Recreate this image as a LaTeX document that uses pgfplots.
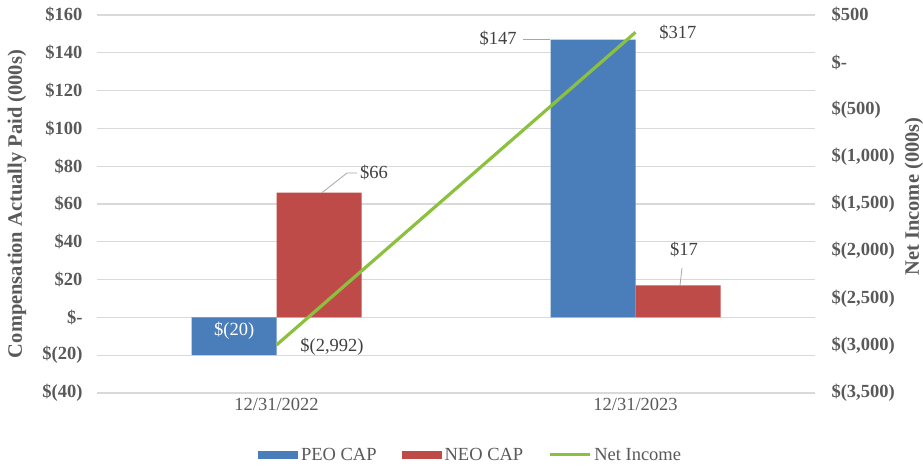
\documentclass[border=0pt]{standalone}
\usepackage{pgfplots}
\pgfplotsset{compat=1.18}
\usepackage{fontspec}
\setmainfont{Liberation Serif}
\definecolor{peo}{RGB}{74,126,187}
\definecolor{neo}{RGB}{190,75,72}
\definecolor{ni}{RGB}{140,193,64}
\definecolor{txt}{RGB}{89,89,89}
\definecolor{lbl}{RGB}{64,64,64}
\definecolor{gridc}{RGB}{217,217,217}
\newcommand{\fs}{\fontsize{18.5}{21}\selectfont}
\newcommand{\ft}{\fontsize{20.5}{23}\selectfont\bfseries}
\begin{document}
\begin{tikzpicture}
\pgfplotsset{
  base/.style={width=718pt,height=378pt,scale only axis,xmin=-0.5,xmax=1.5,
    axis line style={draw=none}, major tick length=0pt,
    tick label style={font=\fs},
  }
}
\begin{axis}[base,
  ymin=-40,ymax=160,
  ytick={-40,-20,...,160},
  yticklabels={\$(40),\$(20),\$-,\$20,\$40,\$60,\$80,\$100,\$120,\$140,\$160},
  yticklabel style={font=\fs\bfseries, text=txt, xshift=-11pt},
  ymajorgrids, grid style={gridc, line width=1.2pt},
  xtick={0,1}, xticklabels={12/31/2022,12/31/2023},
  xticklabel style={text=txt, yshift=-2pt},
  ybar=0pt, bar width=85pt,
  legend style={at={(axis description cs:0.521,-0.164)}, anchor=center, draw=none, fill=none,
    legend columns=3, font=\fs, text=txt,
    /tikz/every even column/.append style={column sep=22pt},
    nodes={inner xsep=3pt}},
  clip=false,
]
\addplot[fill=peo, draw=none, legend image code/.code={\fill[peo] (0pt,-4pt) rectangle (40pt,4pt);}]
  coordinates {(0,-20) (1,147)};
\addlegendentry{PEO CAP}
\addplot[fill=neo, draw=none, legend image code/.code={\fill[neo] (0pt,-4pt) rectangle (40pt,4pt);}]
  coordinates {(0,66) (1,17)};
\addlegendentry{NEO CAP}
\addlegendimage{legend image code/.code={\draw[ni, line width=3pt] (0pt,0pt) -- (40pt,0pt);}}
\addlegendentry{Net Income}
% data labels
\node[font=\fs, text=white] at (axis cs:-0.118,-7) {\$(20)};
\draw[gray!70, line width=0.8pt] (axis cs:0.1267,66) -- (axis cs:0.1964,76.4) -- (axis cs:0.2242,76.4);
\node[font=\fs, text=lbl] at (axis cs:0.2716,76.9) {\$66};
\node[font=\fs, text=lbl] at (axis cs:0.1546,-15.7) {\$(2,992)};
\draw[gray!70, line width=0.8pt] (axis cs:0.6866,147) -- (axis cs:0.7618,147);
\node[font=\fs, text=lbl] at (axis cs:0.617,147.8) {\$147};
\node[font=\fs, text=lbl] at (axis cs:1.118,151) {\$317};
\draw[gray!70, line width=0.8pt] (axis cs:1.124,17) -- (axis cs:1.1295,26.1);
\node[font=\fs, text=lbl] at (axis cs:1.135,35.7) {\$17};
\node[font=\ft, text=txt, rotate=90] at (axis description cs:-0.1114,0.5) {Compensation Actually Paid (000s)};
\node[font=\ft, text=txt, rotate=90] at (axis description cs:1.1379,0.52) {Net Income (000s)};
\end{axis}
\begin{axis}[base,
  ymin=-3500,ymax=500,
  axis y line*=right, axis x line=none,
  ytick={-3500,-3000,...,500},
  yticklabels={\$(3{,}500),\$(3{,}000),\$(2{,}500),\$(2{,}000),\$(1{,}500),\$(1{,}000),\$(500),\$-,\$500},
  yticklabel style={font=\fs\bfseries, text=txt, xshift=13pt},
  xtick=\empty,
]
\addplot[ni, line width=3.2pt] coordinates {(0,-2992) (1,317)};
\end{axis}
\pgfresetboundingbox
\useasboundingbox (-97pt,-73pt) rectangle (826pt,393pt);
\end{tikzpicture}
\end{document}
